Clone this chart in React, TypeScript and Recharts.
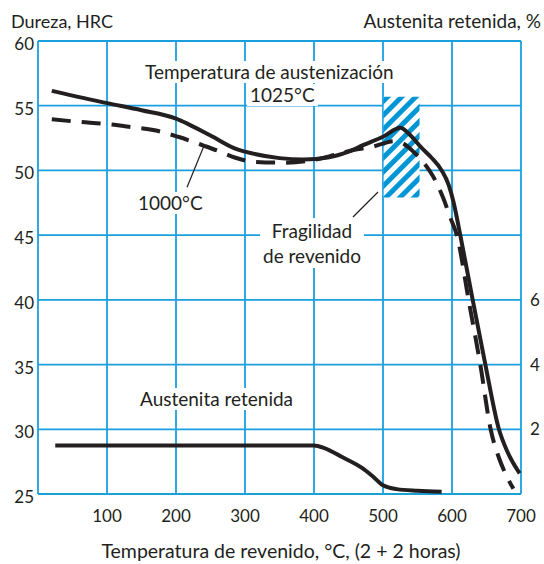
import { ComposedChart, Line, XAxis, YAxis, CartesianGrid, ReferenceArea, ReferenceLine } from 'recharts';

// Temple a 1025°C (línea continua)
const temps1025 = [20, 100, 150, 200, 217, 250, 290, 300, 350, 385, 420, 450, 471, 500, 525, 540, 555, 570, 585, 595, 602, 612, 630, 648, 668, 680, 698];
const hrc1025 = [56.15, 55.2, 54.65, 54.0, 53.6, 52.7, 51.6, 51.45, 50.95, 50.85, 51.0, 51.45, 51.95, 52.6, 53.3, 52.7, 51.8, 51.0, 50.0, 48.9, 47.6, 45.0, 40.0, 35.1, 30.0, 28.3, 26.6];

// Temple a 1000°C (línea discontinua)
const temps1000 = [20, 60, 97, 135, 169, 203, 241, 264, 285, 312, 360, 399, 430, 457, 486, 505, 515, 530, 544, 558, 573, 587, 598, 607, 624, 641, 656, 668, 679, 689];
const hrc1000 = [53.95, 53.75, 53.6, 53.35, 53.1, 52.6, 51.9, 51.45, 51.0, 50.67, 50.6, 50.8, 51.2, 51.58, 51.85, 52.15, 52.25, 52.05, 51.45, 50.67, 49.5, 47.9, 46.3, 45.0, 40.0, 35.0, 30.0, 27.8, 26.4, 25.4];

// Austenita retenida, %
const tempsAust = [25, 400, 415, 440, 470, 485, 500, 520, 550, 585];
const austPct = [1.5, 1.5, 1.42, 1.15, 0.8, 0.55, 0.27, 0.15, 0.1, 0.07];

const xTicks = [0, 100, 200, 300, 400, 500, 600, 700];
const hrcTicks = [25, 30, 35, 40, 45, 50, 55, 60];
const austTicks = [2, 4, 6];

// zona de fragilidad de revenido
const fragX = [501, 553];
const fragY = [47.9, 55.7];

const data1025 = temps1025.map((t, i) => ({ t, v: hrc1025[i] }));
const data1000 = temps1000.map((t, i) => ({ t, v: hrc1000[i] }));
const dataAust = tempsAust.map((t, i) => ({ t, v: austPct[i] }));

const INK = '#231f20';
const GRID = '#1a9fde';
const FONT = 'Lato, "Open Sans", sans-serif';

const boxed = (left: number, top: number, text: string, extra: any = {}) => (
  <div
    style={{
      position: 'absolute',
      left,
      top,
      background: '#fff',
      padding: '0 3px',
      lineHeight: '22px',
      fontSize: 19,
      color: INK,
      whiteSpace: 'nowrap',
      textAlign: 'center',
      ...extra,
    }}
  >
    {text}
  </div>
);

export default function App() {
  return (
    <div style={{ position: 'relative', width: 544, height: 564, fontFamily: FONT, color: INK }}>
      <style>{`body{margin:0}`}</style>
      <ComposedChart width={544} height={564} margin={{ top: 41, right: 0, bottom: 0, left: 0 }}>
        <defs>
          <pattern id="hatch" width="10" height="10" patternUnits="userSpaceOnUse" patternTransform="rotate(45)">
            <rect width="10" height="10" fill="#fff" />
            <rect x="0" y="0" width="5" height="10" fill="#0096d6" />
          </pattern>
        </defs>
        <CartesianGrid yAxisId="left" stroke={GRID} strokeWidth={1.8} />
        <XAxis
          dataKey="t"
          type="number"
          domain={[0, 700]}
          ticks={xTicks}
          tickFormatter={(v) => (v === 0 ? '' : String(v))}
          axisLine={false}
          tickLine={false}
          tickSize={6}
          tickMargin={10}
          height={70}
          tick={{ fill: INK, fontSize: 17, fontFamily: FONT }}
        />
        <YAxis
          yAxisId="left"
          type="number"
          domain={[25, 60]}
          ticks={hrcTicks}
          axisLine={false}
          tickLine={false}
          tickSize={0}
          tickMargin={4}
          width={38}
          tick={{ fill: INK, fontSize: 17, fontFamily: FONT, dy: 3 }}
        />
        <YAxis
          yAxisId="right"
          orientation="right"
          type="number"
          domain={[0, 14]}
          ticks={austTicks}
          axisLine={false}
          tickLine={false}
          tickSize={6}
          tickMargin={3}
          width={23}
          tick={{ fill: INK, fontSize: 17, fontFamily: FONT }}
        />
        <ReferenceArea
          yAxisId="left"
          x1={fragX[0]}
          x2={fragX[1]}
          y1={fragY[0]}
          y2={fragY[1]}
          fill="url(#hatch)"
          fillOpacity={1}
          stroke="none"
        />
        <ReferenceLine yAxisId="left" segment={[{ x: 216, y: 48.7 }, { x: 240.6, y: 51.9 }]} stroke={INK} strokeWidth={1.2} />
        <ReferenceLine yAxisId="left" segment={[{ x: 456.5, y: 46.4 }, { x: 492.8, y: 48.33 }]} stroke={INK} strokeWidth={1.2} />
        <Line yAxisId="left" data={data1000} dataKey="v" type="monotone" stroke={INK} strokeWidth={4} strokeDasharray="19 11" dot={false} isAnimationActive={false} />
        <Line yAxisId="left" data={data1025} dataKey="v" type="monotone" stroke={INK} strokeWidth={4} dot={false} isAnimationActive={false} />
        <Line yAxisId="right" data={dataAust} dataKey="v" type="monotone" stroke={INK} strokeWidth={4} dot={false} isAnimationActive={false} />
      </ComposedChart>

      <div style={{ position: 'absolute', left: 11, top: 10, fontSize: 18, lineHeight: '22px' }}>Dureza, HRC</div>
      <div style={{ position: 'absolute', right: 3, top: 10, fontSize: 19, lineHeight: '22px' }}>Austenita retenida, %</div>
      <div style={{ position: 'absolute', left: 0, width: 562, top: 540, fontSize: 19.5, lineHeight: '22px', textAlign: 'center' }}>
        Temperatura de revenido, °C, (2 + 2 horas)
      </div>

      {boxed(142, 61, 'Temperatura de austenización')}
      {boxed(247, 84, '1025°C')}
      {boxed(135, 192, '1000°C')}
      {boxed(260, 218, 'Fragilidad\nde revenido', { whiteSpace: 'pre', lineHeight: '25px' })}
      {boxed(137, 388, 'Austenita retenida')}
    </div>
  );
}
